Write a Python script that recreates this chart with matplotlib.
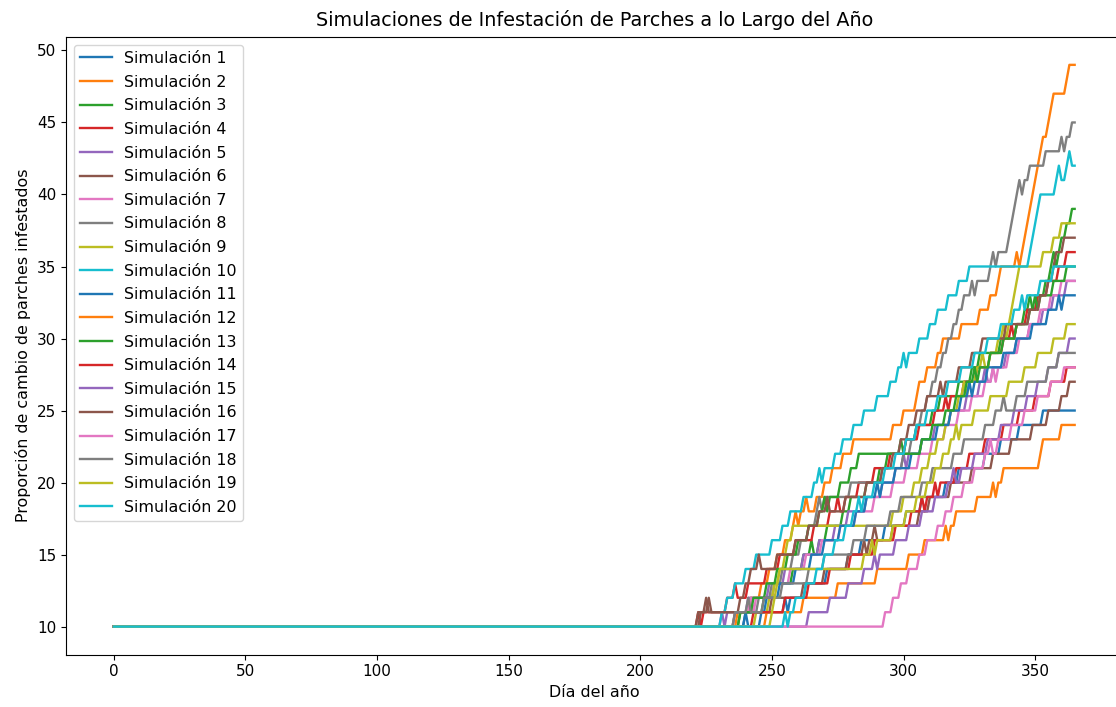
import numpy as np
import matplotlib
matplotlib.use('Agg')
import matplotlib.pyplot as plt

# day on which each simulation gained one infested patch (start value 10)
up_days = [
    [246, 257, 263, 271, 279, 284, 293, 301, 307, 316, 321, 331, 337, 344, 353],
    [237, 242, 246, 249, 252, 255, 258, 261, 267, 270, 273, 277, 281, 296, 300,
     305, 307, 309, 313, 315, 322, 329, 333, 336, 337, 345, 346, 347, 348, 349,
     350, 351, 352, 354, 355, 356, 357, 362, 363],
    [238, 247, 251, 258, 262, 268, 271, 277, 280, 286, 291, 294, 301, 305, 311,
     314, 321, 326, 329, 337, 343, 346, 351, 354, 356, 359, 360, 362, 364],
    [224, 233, 241, 248, 253, 259, 266, 272, 278, 283, 289, 295, 301, 306, 312,
     318, 323, 328, 333, 338, 343, 347, 351, 355, 359, 362],
    [233, 241, 249, 255, 262, 268, 274, 279, 286, 292, 297, 302, 307, 312, 318,
     324, 329, 334, 339, 343, 348, 353, 357, 362],
    [222, 250, 262, 270, 279, 287, 296, 306, 310, 318, 326, 334, 341, 349, 355,
     360, 363],
    [236, 244, 251, 257, 263, 269, 276, 282, 289, 296, 301, 306, 311, 316, 321,
     326, 331, 336, 340, 344, 348, 352, 356, 360],
    [236, 245, 250, 254, 258, 261, 264, 267, 270, 280, 292, 300, 303, 305, 307,
     309, 311, 313, 315, 317, 319, 321, 323, 328, 333, 337, 340, 341, 342, 343,
     346, 348, 354, 362, 364],
    [244, 249, 251, 253, 255, 256, 258, 296, 300, 304, 307, 310, 313, 316, 318,
     321, 325, 328, 333, 336, 340, 341, 342, 343, 344, 353, 357, 360],
    [231, 233, 236, 240, 244, 250, 254, 257, 262, 266, 270, 274, 277, 281, 285,
     290, 295, 298, 302, 306, 310, 313, 317, 321, 325, 348, 349, 350, 351, 352,
     358, 362],
    [240, 248, 253, 259, 265, 270, 276, 282, 286, 292, 297, 303, 307, 313, 318,
     322, 327, 332, 338, 343, 349, 355, 361],
    [248, 262, 275, 290, 302, 308, 318, 320, 328, 336, 338, 352, 353, 360],
    [238, 243, 248, 252, 256, 260, 264, 268, 272, 276, 280, 283, 307, 311, 316,
     320, 324, 329, 333, 338, 343, 348, 352, 357, 362],
    [243, 255, 264, 272, 280, 289, 297, 303, 309, 314, 320, 325, 331, 338, 344,
     350, 356, 362],
    [264, 272, 279, 285, 291, 297, 302, 307, 312, 317, 322, 327, 332, 337, 342,
     347, 351, 355, 359, 363],
    [223, 238, 240, 242, 252, 259, 264, 268, 278, 286, 292, 296, 299, 302, 305,
     309, 316, 321, 326, 330, 339, 348, 352, 355, 357, 358, 361],
    [293, 296, 299, 302, 306, 309, 313, 316, 319, 323, 327, 331, 336, 341, 346,
     351, 356, 361],
    [236, 247, 254, 264, 270, 281, 286, 295, 299, 307, 311, 319, 323, 331, 335,
     343, 347, 355, 359],
    [250, 251, 252, 253, 285, 290, 296, 301, 305, 309, 312, 315, 318, 322, 327,
     333, 340, 346, 351, 357, 362],
    [257, 259, 263, 267, 270, 274, 278, 281, 285, 289, 293, 297, 301, 305, 309,
     313, 317, 322, 327, 332, 337, 342, 347, 352, 357],
]

# single days with one extra patch that disappears the next day
blip_days = [
    [240, 255],
    [259, 263, 306, 343, 353],
    [265, 299, 348, 357],
    [222, 236, 275, 316, 341],
    [231, 300, 331],
    [225, 285, 289],
    [242, 334],
    [268, 326, 334, 336, 344, 360],
    [323, 330, 338],
    [268, 300, 359, 363],
    [290, 325, 359],
    [316, 334],
    [270, 327, 350],
    [307, 312],
    [289, 319],
    [226, 245, 271, 314],
    [333],
    [241, 338],
    [288, 320],
    [255, 283, 345],
]

days = np.arange(366)
start_value = 10

fig = plt.figure(figsize=(11.16, 7.07), dpi=100)
ax = fig.add_axes([0.059, 0.074, 0.947, 0.874])

for i in range(20):
    vals = start_value + np.searchsorted(np.array(up_days[i]), days, side='right')
    vals[np.array(blip_days[i])] += 1
    ax.plot(days, vals, lw=1.7, label='Simulación ' + str(i + 1))

ax.set_title('Simulaciones de Infestación de Parches a lo Largo del Año', fontsize=13.8, pad=8)
ax.set_xlabel('Día del año', fontsize=11.4)
ax.set_ylabel('Proporción de cambio de parches infestados', fontsize=11.4)
ax.tick_params(labelsize=11)
ax.legend(loc='upper left', fontsize=11.4, labelspacing=0.545)

fig.savefig('out.png', dpi=100)
